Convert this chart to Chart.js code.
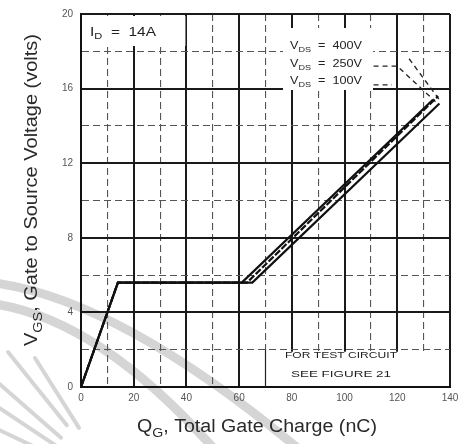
<!DOCTYPE html>
<html>
<head>
<meta charset="utf-8">
<script src="https://cdn.jsdelivr.net/npm/chart.js@4.4.1/dist/chart.umd.min.js"></script>
<style>
  html, body { margin: 0; padding: 0; background: #fff; }
  #gateCharge { display: block; }
</style>
</head>
<body>
<canvas id="gateCharge" width="466" height="444"></canvas>
<script>
// Gate charge curves (nC vs volts) for three drain voltages
var qg100 = [0, 14, 61, 133.5];
var vgs100 = [0, 5.6, 5.6, 15.4];
var qg250 = [0, 14, 63, 135.5];
var vgs250 = [0, 5.6, 5.6, 15.6];
var qg400 = [0, 14, 65, 136];
var vgs400 = [0, 5.6, 5.6, 15.2];

// leader lines from the VDS labels to the curve ends
var leaderAx = [111, 120, 134.5];
var leaderAy = [17.2, 17.2, 15.3];
var leaderBx = [111, 118];
var leaderBy = [16.2, 16.2];
var leaderCx = [124.5, 136.5];
var leaderCy = [17.6, 15.3];

var xTicks = [0, 20, 40, 60, 80, 100, 120, 140];
var yTicks = [0, 4, 8, 12, 16, 20];
var vdsLabels = ['400V', '250V', '100V'];

var FONT = '"Liberation Sans", Arial, sans-serif';

function toPoints(xs, ys) {
    return xs.map(function (x, i) { return { x: x, y: ys[i] }; });
}

function curve(xs, ys, dash) {
    return {
        data: toPoints(xs, ys),
        showLine: true,
        borderColor: '#111',
        borderWidth: 2.2,
        borderDash: dash || [],
        pointRadius: 0,
        tension: 0
    };
}

function leader(xs, ys) {
    return {
        data: toPoints(xs, ys),
        showLine: true,
        borderColor: '#222',
        borderWidth: 1.3,
        borderDash: [5, 4],
        pointRadius: 0
    };
}

// faint grey watermark (two bands and a fan of rays) behind the grid
var watermark = {
    id: 'watermark',
    beforeDraw: function (chart) {
        var ctx = chart.ctx;
        ctx.save();
        ctx.strokeStyle = 'rgba(150,150,150,0.4)';
        ctx.lineCap = 'round';
        ctx.lineWidth = 9;
        ctx.beginPath();
        ctx.moveTo(-5, 283);
        ctx.quadraticCurveTo(120, 300, 300, 450);
        ctx.stroke();
        ctx.beginPath();
        ctx.moveTo(-5, 304);
        ctx.quadraticCurveTo(100, 320, 215, 450);
        ctx.stroke();

        ctx.lineWidth = 4;
        var fx = 115, fy = 485;
        var ends = [[8, 352], [35, 358], [-5, 380], [-5, 405], [-5, 428], [20, 446]];
        ends.forEach(function (e) {
            ctx.beginPath();
            ctx.moveTo(fx + (e[0] - fx) * 0.45, fy + (e[1] - fy) * 0.45);
            ctx.lineTo(e[0], e[1]);
            ctx.stroke();
        });
        ctx.restore();
    }
};

function partsWidth(ctx, parts, size) {
    var w = 0;
    parts.forEach(function (p) {
        ctx.font = (p[1] ? size * 0.72 : size) + 'px ' + FONT;
        w += ctx.measureText(p[0]).width;
    });
    return w;
}

function drawParts(ctx, parts, x, y, size) {
    var cx = x;
    parts.forEach(function (p) {
        var s = p[1] ? size * 0.72 : size;
        ctx.font = s + 'px ' + FONT;
        ctx.fillText(p[0], cx, y + (p[1] ? size * 0.28 : 0));
        cx += ctx.measureText(p[0]).width;
    });
}

// draws text stretched horizontally to a given width
function drawFitted(ctx, parts, size, width) {
    var w = partsWidth(ctx, parts, size);
    ctx.save();
    ctx.scale(width / w, 1);
    drawParts(ctx, parts, -w / 2, 0, size);
    ctx.restore();
}

var labels = {
    id: 'labels',
    beforeDatasetsDraw: function (chart) {
        // blank areas behind the notes, as on the printed sheet
        var ctx = chart.ctx;
        var xs = chart.scales.x, ys = chart.scales.y;
        ctx.save();
        ctx.fillStyle = '#fff';
        ctx.fillRect(xs.left + 2, ys.top + 2, xs.getPixelForValue(40) - xs.left - 3, 30);
        ctx.fillRect(283, ys.top + 14, 90, 62);
        var bx = xs.getPixelForValue(70);
        var by = ys.getPixelForValue(2) + 2;
        ctx.fillRect(bx, by, xs.right - bx - 1, ys.bottom - by - 1);
        ctx.strokeStyle = '#222';
        ctx.lineWidth = 1.2;
        ctx.beginPath();
        ctx.moveTo(bx, by - 2);
        ctx.lineTo(bx, ys.bottom);
        ctx.stroke();
        ctx.restore();
    },
    afterDraw: function (chart) {
        var ctx = chart.ctx;
        var xs = chart.scales.x, ys = chart.scales.y;
        ctx.save();
        ctx.fillStyle = '#2a2a2a';
        ctx.textBaseline = 'alphabetic';
        ctx.textAlign = 'left';

        // axis titles
        ctx.save();
        ctx.translate(37, 190);
        ctx.rotate(-Math.PI / 2);
        drawFitted(ctx, [['V', false], ['GS', true], [', Gate to Source Voltage (volts)', false]], 18, 312);
        ctx.restore();

        ctx.save();
        ctx.translate(257, 432);
        drawFitted(ctx, [['Q', false], ['G', true], [', Total Gate Charge (nC)', false]], 18, 240);
        ctx.restore();

        // notes inside the plot
        ctx.fillStyle = '#222';
        ctx.save();
        ctx.translate(123, 36);
        drawFitted(ctx, [['I', false], ['D', true], ['  =  14A', false]], 12, 66);
        ctx.restore();

        var rows = [49, 67, 84];
        vdsLabels.forEach(function (v, i) {
            ctx.save();
            ctx.translate(326, rows[i]);
            drawFitted(ctx, [['V', false], ['DS', true], ['  =  ' + v, false]], 10, 72);
            ctx.restore();
        });

        ctx.save();
        ctx.translate(341, 358);
        drawFitted(ctx, [['FOR TEST CIRCUIT', false]], 9.5, 112);
        ctx.restore();
        ctx.save();
        ctx.translate(341, 377);
        drawFitted(ctx, [['SEE FIGURE 21', false]], 9.5, 100);
        ctx.restore();
        ctx.restore();
    }
};

new Chart(document.getElementById('gateCharge').getContext('2d'), {
    type: 'scatter',
    data: {
        datasets: [
            curve(qg100, vgs100),
            curve(qg250, vgs250, [7, 2]),
            curve(qg400, vgs400),
            leader(leaderAx, leaderAy),
            leader(leaderBx, leaderBy),
            leader(leaderCx, leaderCy)
        ]
    },
    options: {
        responsive: false,
        animation: false,
        layout: { padding: { top: 13, right: 16, left: 0, bottom: 0 } },
        plugins: { legend: { display: false }, tooltip: { enabled: false } },
        scales: {
            x: {
                type: 'linear',
                min: 0,
                max: 140,
                afterFit: function (scale) { scale.height = 57; },
                ticks: {
                    stepSize: 10,
                    padding: 5,
                    color: '#555',
                    font: { size: 10, family: FONT },
                    callback: function (v) { return xTicks.indexOf(v) >= 0 ? v : ''; }
                },
                grid: {
                    drawTicks: false,
                    color: function (c) { return c.tick && c.tick.value % 20 === 0 ? '#1a1a1a' : '#555'; },
                    lineWidth: function (c) { return c.tick && c.tick.value % 20 === 0 ? 2 : 1.1; }
                },
                border: {
                    color: '#111',
                    width: 2,
                    dash: function (c) { return c.tick && c.tick.value % 20 === 0 ? [] : [7, 4]; }
                }
            },
            y: {
                type: 'linear',
                min: 0,
                max: 20,
                afterFit: function (scale) { scale.width = 81; },
                ticks: {
                    stepSize: 2,
                    padding: 8,
                    color: '#555',
                    font: { size: 10, family: FONT },
                    callback: function (v) { return yTicks.indexOf(v) >= 0 ? v : ''; }
                },
                grid: {
                    drawTicks: false,
                    color: function (c) { return c.tick && c.tick.value % 4 === 0 ? '#1a1a1a' : '#555'; },
                    lineWidth: function (c) { return c.tick && c.tick.value % 4 === 0 ? 2 : 1.1; }
                },
                border: {
                    color: '#111',
                    width: 2,
                    dash: function (c) { return c.tick && c.tick.value % 4 === 0 ? [] : [7, 4]; }
                }
            }
        }
    },
    plugins: [watermark, labels]
});
</script>
</body>
</html>
